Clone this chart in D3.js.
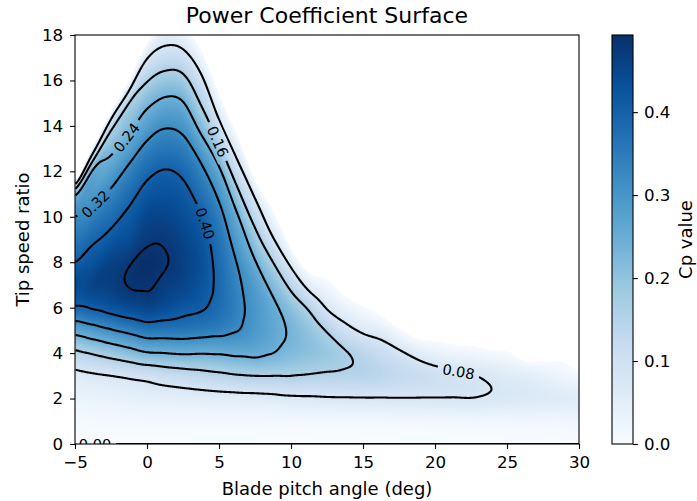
<!DOCTYPE html>
<html>
<head>
<meta charset="utf-8">
<script src="https://cdn.jsdelivr.net/npm/d3@7"></script>
<style>
  body { margin: 0; background: #fff; }
  svg { font-family: "DejaVu Sans", sans-serif; }
</style>
</head>
<body>
<svg width="697" height="501"></svg>
<script>
// grid: one column of Cp per pitch angle, one entry per tip speed ratio
// null = no value (blank area of the map)
const pitchAngles = [-5, -3.75, -2.5, -1.25, 0, 1.25, 2.5, 3.75, 5, 6.25, 7.5, 8.75, 10, 11.25, 12.5,
  13.75, 15, 16.25, 17.5, 18.75, 20, 21.25, 22.5, 23.75, 25, 26.25, 27.5, 28.75, 30];
const tipSpeedRatios = [0, 1, 2, 3, 4, 5, 6, 7, 8, 9, 10, 11, 12, 13, 14, 15, 16, 17, 18];
const N = null;
const cpByPitch = [
  [0, .008, .03, .062, .146, .265, .393, .445, .40, .36, .32, .224, N, N, N, N, N, N, N],
  [0, .009, .033, .072, .166, .289, .406, .458, .428, .391, .345, .291, .25, .035, N, N, N, N, N],
  [0, .01, .036, .08, .188, .314, .425, .465, .46, .42, .378, .333, .28, .22, .133, N, N, N, N],
  [0, .011, .04, .09, .21, .337, .443, .482, .476, .44, .415, .379, .337, .28, .217, .16, .005, N, N],
  [0, .012, .045, .10, .235, .36, .455, .485, .493, .472, .452, .42, .385, .34, .28, .225, .155, .075, N],
  [0, .012, .047, .115, .24, .358, .44, .468, .483, .474, .455, .43, .403, .36, .314, .257, .19, .118, .045],
  [0, .012, .05, .125, .246, .358, .42, .455, .463, .455, .437, .418, .388, .347, .30, .244, .18, .109, .03],
  [0, .012, .053, .135, .243, .35, .407, .428, .435, .425, .405, .372, .337, .284, .215, .155, .10, .027, N],
  [0, .012, .056, .145, .245, .34, .378, .385, .38, .368, .345, .305, .255, .175, .10, .03, N, N, N],
  [0, .012, .058, .155, .252, .322, .338, .333, .318, .285, .25, .184, .113, .05, N, N, N, N, N],
  [0, .012, .06, .16, .255, .293, .297, .283, .245, .19, .13, .065, N, N, N, N, N, N, N],
  [0, .012, .064, .16, .24, .262, .255, .217, .16, .087, .02, N, N, N, N, N, N, N, N],
  [0, .012, .07, .16, .22, .232, .205, .14, .06, N, N, N, N, N, N, N, N, N, N],
  [0, .012, .072, .155, .205, .198, .15, .053, N, N, N, N, N, N, N, N, N, N, N],
  [0, .012, .075, .15, .19, .155, .075, .015, N, N, N, N, N, N, N, N, N, N, N],
  [0, .012, .076, .148, .165, .102, .035, N, N, N, N, N, N, N, N, N, N, N, N],
  [0, .013, .077, .146, .14, .07, .005, N, N, N, N, N, N, N, N, N, N, N, N],
  [0, .013, .077, .138, .115, .05, N, N, N, N, N, N, N, N, N, N, N, N, N],
  [0, .014, .078, .125, .09, .008, N, N, N, N, N, N, N, N, N, N, N, N, N],
  [0, .014, .078, .114, .06, N, N, N, N, N, N, N, N, N, N, N, N, N, N],
  [0, .015, .078, .103, .036, N, N, N, N, N, N, N, N, N, N, N, N, N, N],
  [0, .015, .078, .09, .025, N, N, N, N, N, N, N, N, N, N, N, N, N, N],
  [0, .016, .079, .083, .02, N, N, N, N, N, N, N, N, N, N, N, N, N, N],
  [0, .016, .075, .072, .01, N, N, N, N, N, N, N, N, N, N, N, N, N, N],
  [0, .016, .07, .06, .004, N, N, N, N, N, N, N, N, N, N, N, N, N, N],
  [0, .017, .066, .052, N, N, N, N, N, N, N, N, N, N, N, N, N, N, N],
  [0, .017, .062, .04, N, N, N, N, N, N, N, N, N, N, N, N, N, N, N],
  [0, .017, .058, .025, N, N, N, N, N, N, N, N, N, N, N, N, N, N, N],
  [0, .018, .055, .012, N, N, N, N, N, N, N, N, N, N, N, N, N, N, N]
];

const contourLevels = [0.08, 0.16, 0.24, 0.32, 0.40, 0.48];
const labelLevels = [0, 0.08, 0.16, 0.24, 0.32, 0.40];
const labelPitch = [-3.6, 21.6, 4.9, -1.4, -3.5, 4.0];
const labelTsr = [0, 2.95, 13.3, 13.5, 10.5, 9.7];

const xTicks = [-5, 0, 5, 10, 15, 20, 25, 30];
const yTicks = [0, 2, 4, 6, 8, 10, 12, 14, 16, 18];
const cbTicks = [0, 0.1, 0.2, 0.3, 0.4];

render();

function render() {
  let svg = d3.select("svg");
  let margin = {left: 75, top: 35};
  let plotW = 504, plotH = 409;
  let tickFont = 16.7, labelFont = 18;

  let x = d3.scaleLinear().domain(d3.extent(pitchAngles)).range([0, plotW]);
  let y = d3.scaleLinear().domain(d3.extent(tipSpeedRatios)).range([plotH, 0]);

  let vmax = d3.max(cpByPitch, col => d3.max(col));
  let blues = d3.schemeBlues[9];
  let color = d3.scaleLinear()
    .domain(blues.map((_, k) => vmax * k / (blues.length - 1)))
    .range(blues)
    .clamp(true);

  let field = buildField(x, y, plotW, plotH);

  let defs = svg.append("defs");
  defs.append("clipPath").attr("id", "plotClip")
    .append("rect").attr("width", plotW).attr("height", plotH);

  let gPlot = svg.append("g").attr("transform", `translate(${margin.left}, ${margin.top})`);

  // heat map
  let canvas = document.createElement("canvas");
  canvas.width = plotW;
  canvas.height = plotH;
  let ctx = canvas.getContext("2d");
  let img = ctx.createImageData(plotW, plotH);
  for (let i = 0; i < field.length; i += 1) {
    let v = field[i];
    if (v < 0) continue;
    let c = d3.rgb(color(v));
    img.data[i * 4] = c.r;
    img.data[i * 4 + 1] = c.g;
    img.data[i * 4 + 2] = c.b;
    img.data[i * 4 + 3] = 255;
  }
  ctx.putImageData(img, 0, 0);
  gPlot.append("image")
    .attr("width", plotW)
    .attr("height", plotH)
    .attr("href", canvas.toDataURL());

  // contour lines
  let sets = d3.contours().size([plotW, plotH]).thresholds(contourLevels)(Array.from(field));
  let linesByLevel = new Map();
  sets.forEach(set => {
    let lines = [];
    set.coordinates.forEach(poly => poly.forEach(ring => {
      splitRing(ring, plotW, plotH).forEach(l => lines.push(l));
    }));
    linesByLevel.set(set.value, lines);
  });

  // zero level lies on the first row of the grid
  let zeroIdx = tipSpeedRatios.indexOf(0);
  let zeroPitch = pitchAngles.filter((_, i) => cpByPitch[i][zeroIdx] === 0);
  let zeroLine = d3.range(x(d3.min(zeroPitch)), x(d3.max(zeroPitch)) + 0.5, 1).map(px => [px, y(0)]);
  linesByLevel.set(0, [zeroLine]);

  let mask = defs.append("mask")
    .attr("id", "labelGap")
    .attr("maskUnits", "userSpaceOnUse")
    .attr("x", -20).attr("y", -20)
    .attr("width", plotW + 40).attr("height", plotH + 40);
  mask.append("rect")
    .attr("x", -20).attr("y", -20)
    .attr("width", plotW + 40).attr("height", plotH + 40)
    .attr("fill", "#fff");

  let gClip = gPlot.append("g").attr("clip-path", "url(#plotClip)");
  let gLines = gClip.append("g").attr("mask", "url(#labelGap)");
  let line = d3.line();
  linesByLevel.forEach(lines => {
    lines.forEach(l => {
      gLines.append("path")
        .attr("d", line(l))
        .attr("fill", "none")
        .attr("stroke", "#000")
        .attr("stroke-width", 2.1)
        .attr("stroke-linejoin", "round");
    });
  });

  // inline labels
  let gLabels = gClip.append("g");
  labelLevels.forEach((lev, k) => {
    let px = x(labelPitch[k]), py = y(labelTsr[k]);
    let lines = linesByLevel.get(lev) || [];
    let best = null, bestD = Infinity;
    lines.forEach(l => l.forEach((p, i) => {
      let d = (p[0] - px) ** 2 + (p[1] - py) ** 2;
      if (d < bestD) { bestD = d; best = {l, i}; }
    }));
    if (!best) return;
    let p = best.l[best.i];
    let a = best.l[Math.max(0, best.i - 8)];
    let b = best.l[Math.min(best.l.length - 1, best.i + 8)];
    let ang = Math.atan2(b[1] - a[1], b[0] - a[0]) * 180 / Math.PI;
    if (ang > 90) ang -= 180;
    if (ang < -90) ang += 180;
    let t = gLabels.append("text")
      .attr("transform", `translate(${p[0]}, ${p[1]}) rotate(${ang})`)
      .attr("text-anchor", "middle")
      .attr("dy", "0.36em")
      .attr("font-size", 14.5)
      .attr("fill", "#000")
      .text(d3.format(".2f")(lev));
    let len = t.node().getComputedTextLength();
    mask.append("rect")
      .attr("x", -len / 2 - 5).attr("y", -9)
      .attr("width", len + 10).attr("height", 18)
      .attr("transform", `translate(${p[0]}, ${p[1]}) rotate(${ang})`)
      .attr("fill", "#000");
  });

  // frame and axes
  gPlot.append("rect")
    .attr("width", plotW).attr("height", plotH)
    .attr("fill", "none").attr("stroke", "#000").attr("stroke-width", 1.1);

  let gx = gPlot.append("g")
    .attr("transform", `translate(0, ${plotH})`)
    .call(d3.axisBottom(x).tickValues(xTicks).tickSize(4.9).tickPadding(7));
  let gy = gPlot.append("g")
    .call(d3.axisLeft(y).tickValues(yTicks).tickSize(4.9).tickPadding(7));
  [gx, gy].forEach(g => {
    g.select(".domain").remove();
    g.attr("font-family", null).attr("font-size", null);
    g.selectAll(".tick line").attr("stroke", "#000").attr("stroke-width", 1.1);
    g.selectAll(".tick text").attr("fill", "#000").attr("font-size", tickFont);
  });

  svg.append("text")
    .attr("x", margin.left + plotW / 2).attr("y", 23)
    .attr("text-anchor", "middle").attr("font-size", 22)
    .text("Power Coefficient Surface");
  svg.append("text")
    .attr("x", margin.left + plotW / 2).attr("y", 495)
    .attr("text-anchor", "middle").attr("font-size", labelFont)
    .text("Blade pitch angle (deg)");
  svg.append("text")
    .attr("transform", `translate(29, ${margin.top + plotH / 2}) rotate(-90)`)
    .attr("text-anchor", "middle").attr("font-size", labelFont)
    .text("Tip speed ratio");

  // colorbar
  let cbW = 21;
  let gCb = svg.append("g").attr("transform", `translate(612, ${margin.top})`);
  let grad = defs.append("linearGradient")
    .attr("id", "cbGrad")
    .attr("x1", 0).attr("y1", 1).attr("x2", 0).attr("y2", 0);
  blues.forEach((c, k) => {
    grad.append("stop").attr("offset", k / (blues.length - 1)).attr("stop-color", c);
  });
  gCb.append("rect")
    .attr("width", cbW).attr("height", plotH)
    .attr("fill", "url(#cbGrad)");
  gCb.append("rect")
    .attr("width", cbW).attr("height", plotH)
    .attr("fill", "none").attr("stroke", "#000").attr("stroke-width", 1.1);
  let cbScale = d3.scaleLinear().domain([0, vmax]).range([plotH, 0]);
  let gCbAxis = gCb.append("g")
    .attr("transform", `translate(${cbW}, 0)`)
    .call(d3.axisRight(cbScale).tickValues(cbTicks).tickFormat(d3.format(".1f")).tickSize(4.9).tickPadding(6));
  gCbAxis.select(".domain").remove();
  gCbAxis.attr("font-family", null).attr("font-size", null);
  gCbAxis.selectAll(".tick line").attr("stroke", "#000").attr("stroke-width", 1.1);
  gCbAxis.selectAll(".tick text").attr("fill", "#000").attr("font-size", tickFont);

  svg.append("text")
    .attr("transform", `translate(692, ${margin.top + plotH / 2}) rotate(-90)`)
    .attr("text-anchor", "middle").attr("font-size", labelFont)
    .text("Cp value");
}

function cubicWeights(t) {
  let t2 = t * t, t3 = t2 * t;
  return [(-t3 + 2 * t2 - t) / 2, (3 * t3 - 5 * t2 + 2) / 2, (-3 * t3 + 4 * t2 + t) / 2, (t3 - t2) / 2];
}

// resample the grid onto the plot pixels; between two pitch columns the
// profiles are matched by their upper edge so a slanted edge stays smooth
function buildField(x, y, w, h) {
  let nCol = pitchAngles.length;
  let colIndex = d3.scaleLinear().domain(d3.extent(pitchAngles)).range([0, nCol - 1]);
  let rowIndex = d3.scaleLinear().domain(d3.extent(tipSpeedRatios)).range([0, tipSpeedRatios.length - 1]);
  let extraRows = 30;

  let columns = cpByPitch.map(col => {
    let last = -1;
    col.forEach((v, j) => { if (v != null) last = j; });
    let vl = col[last];
    let vp = last > 0 ? col[last - 1] : vl;
    let slope = Math.max(vp - vl, 1.6 * vl, 0.02);
    let ext = d3.range(col.length + extraRows).map(j =>
      (j < col.length && col[j] != null) ? col[j] : Math.max(-0.3, vl - slope * (j - last)));
    return {ext, edge: last + vl / slope};
  });

  function sampleColumn(c, r) {
    let j0 = Math.floor(r), wr = cubicWeights(r - j0);
    let s = 0;
    for (let n = 0; n < 4; n += 1) {
      let j = Math.max(0, Math.min(c.ext.length - 1, j0 - 1 + n));
      s += wr[n] * c.ext[j];
    }
    return s;
  }

  let out = new Float64Array(w * h);
  for (let c = 0; c < w; c += 1) {
    let u = colIndex(x.invert(c + 0.5));
    let i0 = Math.floor(u), wu = cubicWeights(u - i0);
    let cols = [0, 1, 2, 3].map(m => columns[Math.max(0, Math.min(nCol - 1, i0 - 1 + m))]);
    let edge = d3.sum(cols, (col, m) => wu[m] * col.edge);
    for (let r = 0; r < h; r += 1) {
      let rr = rowIndex(y.invert(r + 0.5));
      let s = 0;
      for (let m = 0; m < 4; m += 1) {
        s += wu[m] * sampleColumn(cols[m], rr * cols[m].edge / edge);
      }
      out[r * w + c] = s;
    }
  }
  return out;
}

// cut a closed contour ring wherever it runs along the grid border
function splitRing(ring, w, h) {
  let lines = [], cur = [], broke = false;
  ring.forEach(p => {
    let edge = p[0] <= 0 || p[0] >= w || p[1] <= 0 || p[1] >= h;
    if (edge) {
      broke = true;
      if (cur.length > 1) lines.push(cur);
      cur = [];
    } else {
      cur.push(p);
    }
  });
  if (cur.length > 1) {
    if (broke && lines.length && ring[0][0] > 0 && ring[0][0] < w && ring[0][1] > 0 && ring[0][1] < h) {
      lines[0] = cur.concat(lines[0]);
    } else {
      lines.push(cur);
    }
  }
  return lines;
}
</script>
</body>
</html>
